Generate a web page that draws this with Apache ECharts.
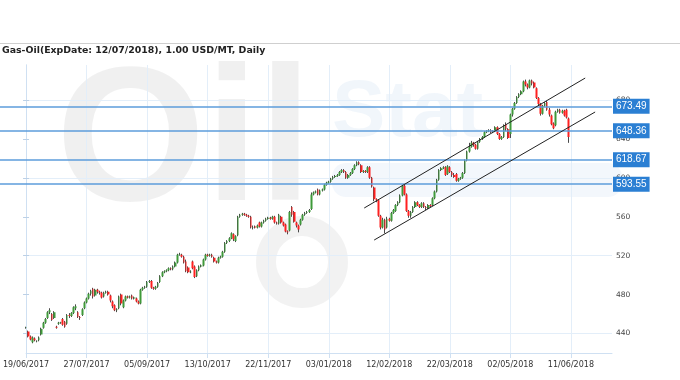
<!DOCTYPE html>
<html>
<head>
<meta charset="utf-8">
<script src="https://cdn.jsdelivr.net/npm/echarts@6/dist/echarts.min.js"></script>
<style>html,body{margin:0;padding:0;background:#fff;}#chart{width:680px;height:380px;}</style>
</head>
<body>
<div id="chart"></div>
<script>
// ---- data ----
const titleText = 'Gas-Oil(ExpDate: 12/07/2018), 1.00 USD/MT, Daily';
const startDate = '2017-06-19';
const holidays = ['2017-12-25', '2018-01-01', '2018-03-30'];
const categoryCount = 272;           // trading days on the axis (incl. empty future days)
const labelEvery = 28;               // axis label every N trading days
const yTickValues = [440, 480, 520, 560, 600, 640, 680];
const levelValues = [673.49, 648.36, 618.67, 593.55];
// channel trend lines: [bar index, price]
const upperChannel = [[156.4, 569.0], [258.6, 702.6]];
const lowerChannel = [[161.0, 536.1], [263.2, 667.7]];
// candles: [open, close, low, high]
const candles = [
[446,446.5,445,447],[442,437,436,443],[437,434,433,438],[431,436,430,437],[435,433,432,436],
[432,432.5,431,433],[433,436,432,437],[439,445,438,446],[446,451,445,452],[451,455,450,456],
[456,462,455,463],[462,464,460,466],[460,454,453,461],[456,462,455,463],[447,446,445,448],
[450,451,449,452],[451,451.5,450,452],[455,449,448,456],[452,447,446,453],[450,459,449,460],
[459,458,456,461],[458,461,457,462],[461,467,460,468],[466,468,464,470],[462,457,456,463],
[457,456,454,458],[459,465,458,466],[466,472,465,473],[472,476,471,477],[476,481,475,482],
[481,484,479,485],[486,478,476,487],[479,485,478,486],[485,483,481,486],[483,482,480,484],
[482,477,476,483],[478,482,477,483],[482,483,481,484],[483,480,479,484],[479,474,472,480],
[473,468,466,474],[469,464,463,470],[464,465,462,466],[466,478,465,479],[480,471,469,481],
[467,474,466,475],[474,478,473,479],[478,477,476,479],[477,478,476,479],[479,476,475,480],
[476,477,475,478],[476,473,472,477],[473,471,470,474],[471,485,470,486],[485,487,484,488],
[487,488,486,489],[488,493,487,494],[493,494,492,495],[494,487,486,495],[487,486,485,488],
[486,488,485,489],[488,492,487,493],[493,499,492,500],[499,503,498,504],[503,504,502,505],
[504,505,503,506],[505,507,504,508],[507,506,505,508],[506,509,505,510],[509,513,508,514],
[513,521,512,522],[521,521.5,520,523],[521,519,518,522],[519,513,512,520],[514,504,503,516],
[508,503,502,509],[503,503.5,502,505],[514,507,506,515],[509,498,497,510],[499,505,498,506],
[505,509,504,510],[509,510,508,511],[510,516,509,517],[516,521,515,522],[521,520,519,522],
[520,521,519,522],[521,519,518,522],[518,514,513,519],[514,513,512,515],[513,518,512,519],
[518,519,517,520],[519,524,518,525],[524,533,523,534],[533,535,532,536],[535,538,534,539],
[538,543,537,544],[542,537,535,543],[535,540,534,541],[541,560,540,561],[560,562,559,563],
[562,563,561,564],[563,562,561,564],[562,561,560,563],[561,560,559,562],[560,549,548,561],
[549,549.5,547,551],[550,549,548,551],[549,551,548,552],[554,550,549,555],[550,554,549,555],
[554,556,553,557],[556,558,555,559],[558,559,557,560],[559,558,557,560],[558,560,557,561],
[560,554,553,561],[554,553,552,555],[553,562,552,563],[560,554,553,561],[554,551,550,555],
[552,545,544,553],[545,544,542,546],[546,565,545,566],[570,562,560,571],[565,555,554,566],
[554,551,549,555],[551,547,544,552],[552,557,551,558],[557,562,556,563],[562,564,561,565],
[564,565,563,566],[565,567,564,568],[568,583,567,585],[583,585,582,586],[585,586,584,587],
[588,583,582,589],[583,587,582,588],[587,588,586,589],[588,593,587,594],[593,595,592,596],
[595,596,594,597],[596,599,595,600],[599,601,598,602],[601,602,600,603],[602,603,601,604],
[603,606,602,607],[606,608,605,609],[608,606,605,609],[606,600,599,607],[600,603,599,604],
[603,605,602,606],[605,609,604,610],[609,613,608,614],[613,616,612,617],[616,614,613,617],
[613,606,605,614],[606,607,605,608],[607,606,605,608],[606,611,605,612],[611,600,599,612],
[600,591,590,601],[590,578,576,591],[578,577,575,579],[577,561,560,578],[561,549,547,562],
[549,557,548,559],[557,547,543,558],[549,558,548,560],[558,556,555,559],[556,564,555,565],
[564,567,563,568],[566,572,565,573],[572,575,571,576],[575,582,574,583],[582,592,581,593],
[592,583,582,593],[583,566,565,584],[566,561,559,567],[561,565,559,566],[565,570,564,571],
[570,575,569,576],[575,572,571,576],[572,570,569,573],[570,574,569,575],[574,570,569,575],
[570,569,567,571],[569,572,568,573],[572,571,570,573],[572,579,571,580],[579,586,578,587],
[586,598,585,599],[598,608,597,609],[608,610,607,611],[610,611,609,612],[611,603,602,612],
[604,612,603,613],[611,606,605,612],[606,603,601,607],[603,601,600,605],[604,597,596,605],
[597,599,596,600],[599,600,598,601],[600,605,599,606],[605,618,604,619],[618,627,617,628],
[627,632,626,636],[632,636,631,638],[636,634,632,637],[634,630,629,635],[630,637,629,638],
[637,640,636,641],[640,642,639,643],[642,647,641,648],[647,648,646,649],[648,649,647,650],
[649,647,646,650],[647,648,646,649],[648,652,647,653],[652,645,644,653],[645,640,639,646],
[640,642,639,643],[642,654,641,655],[655,650,648,657],[650,641,640,651],[645,665,641,666],
[665,671,663,672],[671,677,670,678],[677,683,676,684],[683,686,682,687],[686,689,685,690],
[689,699,688,700],[699,696,694,701],[696,693,691,697],[693,700,692,701],[700,697,695,701],
[698,693,692,699],[692,682,681,693],[682,676,674,683],[676,666,664,677],[666,674,665,675],
[674,677,673,678],[678,670,669,679],[670,665,663,672],[664,655,654,665],[656,651,650,657],
[654,668,653,669],[668,670,667,671],[670,667,666,671],[667,669,666,670],[669,664,663,670],
[670,662,661,671],[661,642,636,662]
];

// ---- build trading-day categories ----
function buildTradingDays(start, count, hol) {
  const out = [];
  const d = new Date(start + 'T00:00:00Z');
  const pad = n => (n < 10 ? '0' : '') + n;
  while (out.length < count) {
    const wd = d.getUTCDay();
    const iso = d.toISOString().slice(0, 10);
    if (wd !== 0 && wd !== 6 && hol.indexOf(iso) < 0) {
      out.push(pad(d.getUTCDate()) + '/' + pad(d.getUTCMonth() + 1) + '/' + d.getUTCFullYear());
    }
    d.setUTCDate(d.getUTCDate() + 1);
  }
  return out;
}
const dates = buildTradingDays(startDate, categoryCount, holidays);

const Y_MIN = 420, Y_MAX = 716;
const GRID_TOP = 65, GRID_BOTTOM = 27, GRID_RIGHT = 68;
const axisBlue = '#cfe0f2';
const gridBlue = '#e3eef9';
const labelFont = 'DejaVu Sans';

const chart = echarts.init(document.getElementById('chart'), null, {renderer: 'canvas'});
const option = {
  animation: false,
  backgroundColor: '#ffffff',
  title: {
    text: titleText, left: 2, top: 46, padding: 0,
    textStyle: {fontSize: 9.4, fontWeight: 'bold', fontFamily: labelFont, color: '#222'}
  },
  graphic: [
    {type: 'line', shape: {x1: 0, y1: 43.5, x2: 680, y2: 43.5}, style: {stroke: '#cfcfcf', lineWidth: 1}, z: 0},
    {type: 'text', z: 0, style: {x: 56, y: 147, text: 'Oil', font: 'bold 192px "Liberation Sans"', fill: 'rgba(0,0,0,0.06)', textVerticalAlign: 'middle'}},
    {type: 'circle', z: 0, shape: {cx: 302, cy: 262, r: 36}, style: {fill: 'none', stroke: 'rgba(0,0,0,0.05)', lineWidth: 20}},
    {type: 'text', z: 0, style: {x: 332, y: 114, text: 'Stat', font: 'bold 80px "Liberation Sans"', fill: 'rgba(80,140,210,0.08)', textVerticalAlign: 'middle'}},
    {type: 'rect', z: 0, shape: {x: 332, y: 163, width: 290, height: 34, r: 14}, style: {fill: 'rgba(80,140,210,0.07)'}}
  ],
  grid: [
    {left: 23, right: GRID_RIGHT, top: GRID_TOP, bottom: GRID_BOTTOM},
    {left: 0, right: GRID_RIGHT, top: GRID_TOP, bottom: GRID_BOTTOM}
  ],
  xAxis: [
    {
      type: 'category', gridIndex: 0, data: dates, boundaryGap: false,
      axisLine: {show: true, lineStyle: {color: axisBlue, width: 1}},
      axisTick: {show: true, interval: labelEvery - 1, length: 5, lineStyle: {color: axisBlue}},
      axisLabel: {interval: labelEvery - 1, fontSize: 8, fontFamily: labelFont, color: '#333', margin: 8, hideOverlap: false},
      splitLine: {show: true, interval: labelEvery - 1, lineStyle: {color: gridBlue, width: 1}}
    },
    {type: 'value', gridIndex: 0, min: 0, max: categoryCount - 1, show: false},
    {type: 'value', gridIndex: 1, min: 0, max: 1, show: false}
  ],
  yAxis: [
    {
      type: 'value', gridIndex: 0, position: 'right', min: Y_MIN, max: Y_MAX, interval: 20,
      axisLine: {show: true, lineStyle: {color: axisBlue}},
      axisTick: {show: true, length: 3, customValues: yTickValues, lineStyle: {color: '#bcd0e6'}},
      axisLabel: {
        customValues: yTickValues, fontSize: 7.5, fontFamily: labelFont, color: '#444', margin: 4,
        formatter: v => (v % 40 === 0 ? String(v) : '')
      },
      splitLine: {show: true, lineStyle: {color: [gridBlue, 'rgba(0,0,0,0)'], width: 1}}
    },
    {
      type: 'value', gridIndex: 0, position: 'left', min: Y_MIN, max: Y_MAX, interval: 20,
      axisLine: {show: true, lineStyle: {color: axisBlue}},
      axisTick: {show: true, length: 3, customValues: yTickValues, lineStyle: {color: '#bcd0e6'}},
      axisLabel: {show: false},
      splitLine: {show: false}
    },
    {type: 'value', gridIndex: 1, min: Y_MIN, max: Y_MAX, show: false}
  ],
  series: [
    {
      name: 'wick', type: 'candlestick', xAxisIndex: 0, yAxisIndex: 0, data: candles,
      barWidth: 1, silent: true, z: 3,
      itemStyle: {color: '#4a4a4a', color0: '#4a4a4a', borderColor: '#4a4a4a', borderColor0: '#4a4a4a', borderWidth: 1}
    },
    {
      name: 'body', type: 'candlestick', xAxisIndex: 0, yAxisIndex: 0, data: candles,
      barWidth: 2.2, silent: true, z: 4,
      itemStyle: {color: '#3f9a3a', color0: '#ff2020', borderColor: '#3f9a3a', borderColor0: '#ff2020', borderWidth: 0}
    },
    {
      name: 'upper', type: 'line', xAxisIndex: 1, yAxisIndex: 0, data: upperChannel,
      symbol: 'none', silent: true, z: 5, lineStyle: {color: '#222', width: 1}
    },
    {
      name: 'lower', type: 'line', xAxisIndex: 1, yAxisIndex: 0, data: lowerChannel,
      symbol: 'none', silent: true, z: 5, lineStyle: {color: '#222', width: 1}
    },
    {
      name: 'levels', type: 'line', xAxisIndex: 2, yAxisIndex: 2, data: [[0, Y_MIN], [1, Y_MIN]],
      symbol: 'none', silent: true, z: 2, lineStyle: {width: 0, opacity: 0},
      markLine: {
        silent: true, symbol: ['none', 'none'], animation: false,
        lineStyle: {color: '#5d9cdb', width: 1.5, type: 'solid'},
        label: {
          show: true, position: 'end', distance: 1,
          formatter: p => Number(p.value).toFixed(2),
          backgroundColor: '#2b7fd3', color: '#fff', fontSize: 10, fontFamily: 'Liberation Sans',
          padding: [3, 3, 2, 3]
        },
        emphasis: {disabled: true},
        data: levelValues.map(v => ({yAxis: v}))
      }
    }
  ]
};
chart.setOption(option);
</script>
</body>
</html>
